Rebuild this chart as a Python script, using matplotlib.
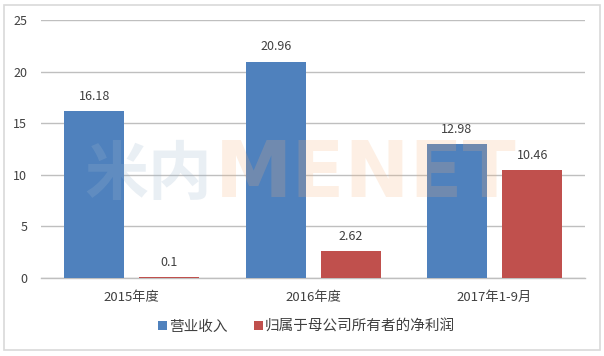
import matplotlib
matplotlib.use("Agg")
import matplotlib.pyplot as plt
import numpy as np
from matplotlib.patches import Rectangle

plt.rcParams['font.family'] = ['Noto Sans CJK SC', 'DejaVu Sans']

categories = ["2015年度", "2016年度", "2017年1-9月"]
series_names = ["营业收入", "归属于母公司所有者的净利润"]
revenue = [16.18, 20.96, 12.98]
net_profit = [0.1, 2.62, 10.46]
yticks = [0, 5, 10, 15, 20, 25]

blue = "#4F81BD"
red = "#C0504D"

fig = plt.figure(figsize=(6.04, 3.56), dpi=100)
ax = fig.add_axes([0.068, 0.219, 0.901, 0.725])

# outer border
fig.patches.append(Rectangle((0.006, 0.017), 0.988, 0.968, transform=fig.transFigure,
                             fill=False, edgecolor="#D9D9D9", linewidth=1.2))

x = np.arange(len(categories))
w = 0.33
off = 0.207
b1 = ax.bar(x - off, revenue, w, color=blue, zorder=3, label=series_names[0])
b2 = ax.bar(x + off, net_profit, w, color=red, zorder=3, label=series_names[1])

for bars, vals in ((b1, revenue), (b2, net_profit)):
    for r, v in zip(bars, vals):
        ax.text(r.get_x() + r.get_width() / 2, v + 0.8, f"{v:g}", ha="center",
                va="bottom", fontsize=9, color="#404040", zorder=4)

ax.set_xlim(-0.5, 2.5)
ax.set_ylim(0, 25)
ax.set_yticks(yticks)
ax.set_yticklabels([str(t) for t in yticks], fontsize=9, color="#404040")
ax.set_xticks(x)
ax.set_xticklabels(categories, fontsize=9.5, color="#404040")
ax.tick_params(axis="both", length=0, pad=10)
ax.tick_params(axis="x", pad=9)
ax.yaxis.grid(True, color="#BFBFBF", linewidth=1, zorder=0)
for s in ("top", "right", "left"):
    ax.spines[s].set_visible(False)
ax.spines["bottom"].set_color("#BFBFBF")
ax.spines["bottom"].set_linewidth(1)
ax.patch.set_alpha(0)

# watermark (drawn over the bars, faint)
fig.text(0.139, 0.455, "米内", fontsize=46, color="#9DB7CF", alpha=0.22,
         ha="left", va="baseline", fontweight="bold", zorder=5)
fig.text(0.356, 0.447, "MENET", fontsize=56, color="#F5B27A", alpha=0.2,
         ha="left", va="baseline", fontweight="bold", family="DejaVu Sans", zorder=5)

leg = fig.legend(handles=[b1, b2], labels=series_names, loc="center",
                 bbox_to_anchor=(0.508, 0.083), ncol=2, frameon=False, fontsize=10.5,
                 handlelength=0.6, handleheight=0.6, handletextpad=0.15,
                 columnspacing=1.8)
for t in leg.get_texts():
    t.set_color("#404040")

fig.savefig("out.png", dpi=100)
